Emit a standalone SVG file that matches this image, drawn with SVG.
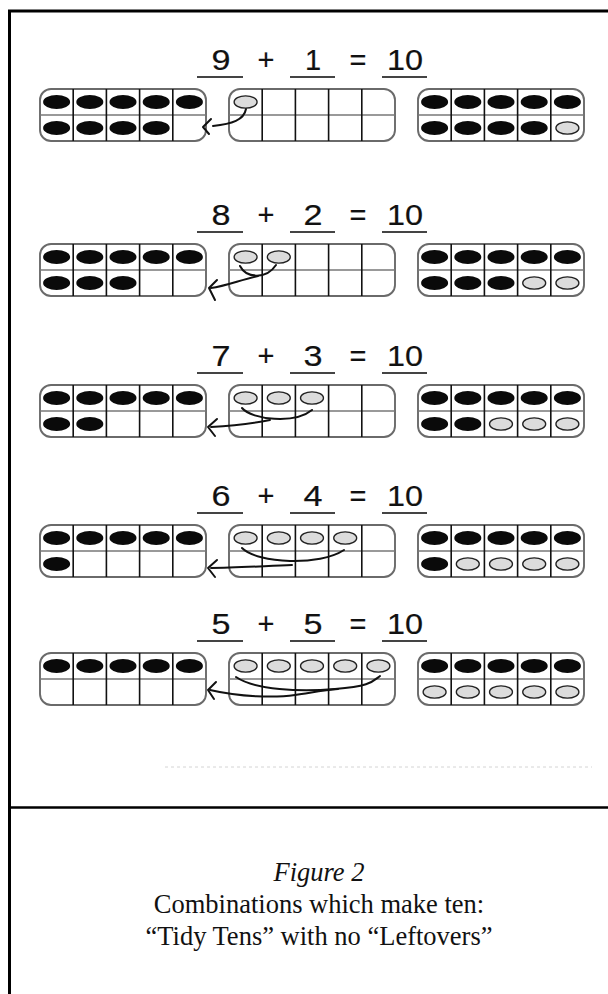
<svg xmlns="http://www.w3.org/2000/svg" width="608" height="994" viewBox="0 0 608 994">
<style>
.fo{fill:none;stroke:#6a6a6a;stroke-width:1.9}
.fv{stroke:#111;stroke-width:1.6}
.fh{stroke:#777;stroke-width:1.6}
.dk{fill:#0a0a0a}
.lt{fill:#dcdcdc;stroke:#222;stroke-width:1.3}
.eq{font-family:"Liberation Sans",Arial,sans-serif;font-size:29px;fill:#111;stroke:#111;stroke-width:0.2;text-anchor:middle}
.ul{stroke:#444;stroke-width:1.8}
.ar{fill:none;stroke:#111;stroke-width:2;stroke-linecap:round;stroke-linejoin:round}
.cap{font-family:"Liberation Serif","Times New Roman",serif;font-size:26.5px;fill:#111;text-anchor:middle}
.bd{stroke:#000;stroke-width:3;fill:none}
</style>
<defs>
<g id="tf">
<rect class="fo" x="0" y="0" width="166" height="52" rx="11"/>
<line class="fh" x1="0" y1="26" x2="166" y2="26"/>
<line class="fv" x1="33.2" y1="0" x2="33.2" y2="52"/>
<line class="fv" x1="66.4" y1="0" x2="66.4" y2="52"/>
<line class="fv" x1="99.6" y1="0" x2="99.6" y2="52"/>
<line class="fv" x1="132.8" y1="0" x2="132.8" y2="52"/>
</g>
<ellipse id="d" class="dk" cx="0" cy="0" rx="13.5" ry="7"/>
<ellipse id="l" class="lt" cx="0" cy="0" rx="11.5" ry="6.2"/>
<g id="top5">
<use href="#d" x="16.6" y="13"/><use href="#d" x="49.8" y="13"/><use href="#d" x="83" y="13"/><use href="#d" x="116.2" y="13"/><use href="#d" x="149.4" y="13"/>
</g>
</defs>

<g id="border">
<line class="bd" x1="9.5" y1="10" x2="9.5" y2="994"/>
<line class="bd" x1="8" y1="11" x2="608" y2="11"/>
<line class="bd" x1="8" y1="807.5" x2="608" y2="807.5" style="stroke-width:2.5"/>
<line x1="165" y1="767" x2="592" y2="767" stroke="#d4d4d4" stroke-width="1" stroke-dasharray="3 3"/>
</g>

<g id="eq1">
<text class="eq" x="221" y="70" textLength="19" lengthAdjust="spacingAndGlyphs">9</text>
<text class="eq" x="266" y="70">+</text>
<text class="eq" x="313" y="70">1</text>
<text class="eq" x="358" y="70">=</text>
<text class="eq" x="405" y="70" textLength="36" lengthAdjust="spacingAndGlyphs">10</text>
<line class="ul" x1="197" y1="77" x2="243" y2="77"/>
<line class="ul" x1="290" y1="77" x2="335" y2="77"/>
<line class="ul" x1="382" y1="77" x2="427" y2="77"/>
</g>
<g id="r1-left" transform="translate(40,89)">
<use href="#tf"/><use href="#top5"/>
<use href="#d" x="16.6" y="39"/><use href="#d" x="49.8" y="39"/><use href="#d" x="83" y="39"/><use href="#d" x="116.2" y="39"/>
</g>
<g id="r1-mid" transform="translate(229,89)">
<use href="#tf"/>
<use href="#l" x="16.6" y="13"/>
</g>
<g id="r1-right" transform="translate(418,89)">
<use href="#tf"/><use href="#top5"/>
<use href="#d" x="16.6" y="39"/><use href="#d" x="49.8" y="39"/><use href="#d" x="83" y="39"/><use href="#d" x="116.2" y="39"/><use href="#l" x="149.4" y="39"/>
</g>

<g id="eq2">
<text class="eq" x="221" y="225" textLength="19" lengthAdjust="spacingAndGlyphs">8</text>
<text class="eq" x="266" y="225">+</text>
<text class="eq" x="313" y="225" textLength="19" lengthAdjust="spacingAndGlyphs">2</text>
<text class="eq" x="358" y="225">=</text>
<text class="eq" x="405" y="225" textLength="36" lengthAdjust="spacingAndGlyphs">10</text>
<line class="ul" x1="197" y1="232" x2="243" y2="232"/>
<line class="ul" x1="290" y1="232" x2="335" y2="232"/>
<line class="ul" x1="382" y1="232" x2="427" y2="232"/>
</g>
<g id="r2-left" transform="translate(40,244)">
<use href="#tf"/><use href="#top5"/>
<use href="#d" x="16.6" y="39"/><use href="#d" x="49.8" y="39"/><use href="#d" x="83" y="39"/>
</g>
<g id="r2-mid" transform="translate(229,244)">
<use href="#tf"/>
<use href="#l" x="16.6" y="13"/><use href="#l" x="49.8" y="13"/>
</g>
<g id="r2-right" transform="translate(418,244)">
<use href="#tf"/><use href="#top5"/>
<use href="#d" x="16.6" y="39"/><use href="#d" x="49.8" y="39"/><use href="#d" x="83" y="39"/><use href="#l" x="116.2" y="39"/><use href="#l" x="149.4" y="39"/>
</g>

<g id="eq3">
<text class="eq" x="221" y="366" textLength="19" lengthAdjust="spacingAndGlyphs">7</text>
<text class="eq" x="266" y="366">+</text>
<text class="eq" x="313" y="366" textLength="19" lengthAdjust="spacingAndGlyphs">3</text>
<text class="eq" x="358" y="366">=</text>
<text class="eq" x="405" y="366" textLength="36" lengthAdjust="spacingAndGlyphs">10</text>
<line class="ul" x1="197" y1="373" x2="243" y2="373"/>
<line class="ul" x1="290" y1="373" x2="335" y2="373"/>
<line class="ul" x1="382" y1="373" x2="427" y2="373"/>
</g>
<g id="r3-left" transform="translate(40,385)">
<use href="#tf"/><use href="#top5"/>
<use href="#d" x="16.6" y="39"/><use href="#d" x="49.8" y="39"/>
</g>
<g id="r3-mid" transform="translate(229,385)">
<use href="#tf"/>
<use href="#l" x="16.6" y="13"/><use href="#l" x="49.8" y="13"/><use href="#l" x="83" y="13"/>
</g>
<g id="r3-right" transform="translate(418,385)">
<use href="#tf"/><use href="#top5"/>
<use href="#d" x="16.6" y="39"/><use href="#d" x="49.8" y="39"/><use href="#l" x="83" y="39"/><use href="#l" x="116.2" y="39"/><use href="#l" x="149.4" y="39"/>
</g>

<g id="eq4">
<text class="eq" x="221" y="506" textLength="19" lengthAdjust="spacingAndGlyphs">6</text>
<text class="eq" x="266" y="506">+</text>
<text class="eq" x="313" y="506" textLength="19" lengthAdjust="spacingAndGlyphs">4</text>
<text class="eq" x="358" y="506">=</text>
<text class="eq" x="405" y="506" textLength="36" lengthAdjust="spacingAndGlyphs">10</text>
<line class="ul" x1="197" y1="513" x2="243" y2="513"/>
<line class="ul" x1="290" y1="513" x2="335" y2="513"/>
<line class="ul" x1="382" y1="513" x2="427" y2="513"/>
</g>
<g id="r4-left" transform="translate(40,525)">
<use href="#tf"/><use href="#top5"/>
<use href="#d" x="16.6" y="39"/>
</g>
<g id="r4-mid" transform="translate(229,525)">
<use href="#tf"/>
<use href="#l" x="16.6" y="13"/><use href="#l" x="49.8" y="13"/><use href="#l" x="83" y="13"/><use href="#l" x="116.2" y="13"/>
</g>
<g id="r4-right" transform="translate(418,525)">
<use href="#tf"/><use href="#top5"/>
<use href="#d" x="16.6" y="39"/><use href="#l" x="49.8" y="39"/><use href="#l" x="83" y="39"/><use href="#l" x="116.2" y="39"/><use href="#l" x="149.4" y="39"/>
</g>

<g id="eq5">
<text class="eq" x="221" y="634" textLength="19" lengthAdjust="spacingAndGlyphs">5</text>
<text class="eq" x="266" y="634">+</text>
<text class="eq" x="313" y="634" textLength="19" lengthAdjust="spacingAndGlyphs">5</text>
<text class="eq" x="358" y="634">=</text>
<text class="eq" x="405" y="634" textLength="36" lengthAdjust="spacingAndGlyphs">10</text>
<line class="ul" x1="197" y1="641" x2="243" y2="641"/>
<line class="ul" x1="290" y1="641" x2="335" y2="641"/>
<line class="ul" x1="382" y1="641" x2="427" y2="641"/>
</g>
<g id="r5-left" transform="translate(40,653)">
<use href="#tf"/><use href="#top5"/>
</g>
<g id="r5-mid" transform="translate(229,653)">
<use href="#tf"/>
<use href="#l" x="16.6" y="13"/><use href="#l" x="49.8" y="13"/><use href="#l" x="83" y="13"/><use href="#l" x="116.2" y="13"/><use href="#l" x="149.4" y="13"/>
</g>
<g id="r5-right" transform="translate(418,653)">
<use href="#tf"/><use href="#top5"/>
<use href="#l" x="16.6" y="39"/><use href="#l" x="49.8" y="39"/><use href="#l" x="83" y="39"/><use href="#l" x="116.2" y="39"/><use href="#l" x="149.4" y="39"/>
</g>

<g id="connectors">
<path class="ar" d="M 246 109 C 244 120, 232 124, 213 126"/>
<path class="ar" d="M 211 119 L 203 127 L 209 134"/>

<path class="ar" d="M 240 266 C 246 278, 266 280, 276 265"/>
<path class="ar" d="M 258 276 C 240 280, 226 286, 211 288"/>
<path class="ar" d="M 217 280 L 209 288 L 215 300"/>

<path class="ar" d="M 242 408 C 252 420, 295 424, 312 410"/>
<path class="ar" d="M 270 420 C 250 424, 230 426, 211 427"/>
<path class="ar" d="M 217 419 L 208 427 L 215 436"/>

<path class="ar" d="M 242 548 C 258 564, 320 566, 344 550"/>
<path class="ar" d="M 292 565 C 265 566, 235 568, 211 568"/>
<path class="ar" d="M 217 560 L 208 568 L 215 577"/>

<path class="ar" d="M 236 677 C 255 690, 300 692, 335 689 S 372 682, 380 676"/>
<path class="ar" d="M 210 690 C 240 697, 275 698, 295 695 S 325 690, 338 689"/>
<path class="ar" d="M 216 682 L 208 690 L 214 699"/>
</g>

<g id="caption">
<text class="cap" x="319" y="881" font-style="italic">Figure 2</text>
<text class="cap" x="319" y="913">Combinations which make ten:</text>
<text class="cap" x="319" y="945">“Tidy Tens” with no “Leftovers”</text>
</g>
</svg>
